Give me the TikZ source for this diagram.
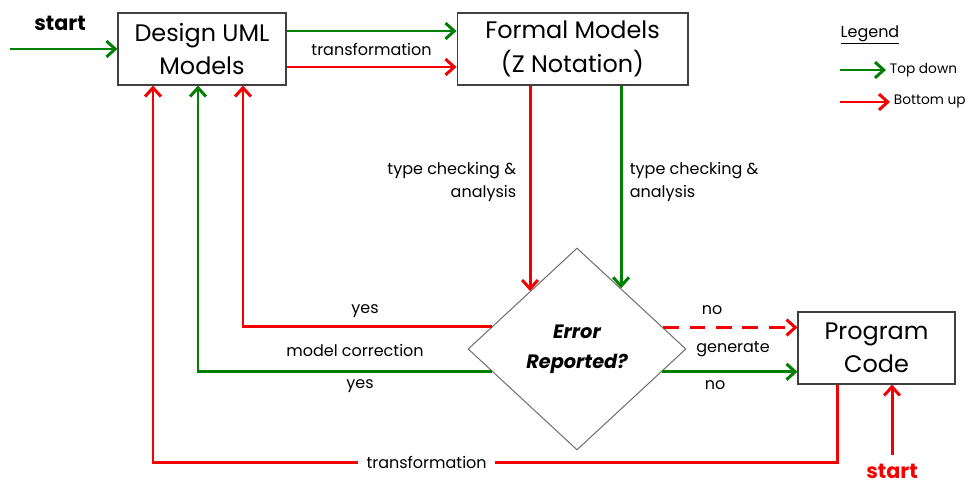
\documentclass[tikz,border=0pt]{standalone}
\usepackage{fontspec}
\setmainfont{Poppins}
\usetikzlibrary{arrows.meta,shapes.geometric,calc}

\definecolor{tdgreen}{RGB}{0,128,0}
\definecolor{bured}{RGB}{245,0,0}

\tikzset{
  box/.style={draw=black!75, line width=0.6pt, minimum height=1.44cm, align=center,
    inner sep=2pt, font=\fontsize{13.6}{19}\selectfont},
  flow/.style={line width=1.7pt, -{Straight Barb[length=5pt,width=9pt,line width=1.7pt]}},
  lbl/.style={font=\fontsize{9.1}{13.5}\selectfont, inner sep=2pt, text=black},
}

\begin{document}
\begin{tikzpicture}[x=0.02cm,y=-0.02cm]
    \useasboundingbox (0,0) rectangle (967,487);

    % boxes and decision
    \node[box, minimum width=3.36cm] (dum) at (202,49) {Design UML\\Models};
    \node[box, minimum width=4.62cm] (fm) at (572.5,49) {Formal Models\\(Z Notation)};
    \node[box, minimum width=3.14cm] (pc) at (876.5,348) {Program\\Code};
    \node[diamond, draw=black!55, line width=0.6pt, minimum width=4.36cm, minimum height=4.04cm,
          inner sep=0pt, align=center, font=\fontsize{11}{17}\selectfont\bfseries\itshape]
          (err) at (577,349) {Error\\Reported?};

    % start points
    \coordinate (s1) at (10,49);
    \coordinate (s2) at (892,455);
    \coordinate (loop) at (153,462);
    \node[font=\fontsize{11.8}{12}\selectfont\bfseries] at (60,23) {start};
    \node[font=\fontsize{11.8}{12}\selectfont\bfseries, text=bured] at (892,471) {start};
    \draw[flow,tdgreen] (s1) -- (dum.west);
    \draw[flow,bured] (s2) -- (pc.south -| s2);

    % UML -> Z
    \draw[flow,tdgreen] ($(dum.east)+(0,-18)$) -- ($(fm.west)+(0,-18)$);
    \draw[flow,bured] ($(dum.east)+(0,18)$) -- ($(fm.west)+(0,18)$);
    \node[lbl] at (371.5,49) {transformation};

    % Z -> check
    \draw[flow,bured] (fm.south -| err.129) -- (err.129);
    \draw[flow,tdgreen] (fm.south -| err.54) -- (err.54);
    \node[lbl, anchor=east, align=right] at (520,182) {type checking \&\\analysis};
    \node[lbl, anchor=west, align=left] at (626,182) {type checking \&\\analysis};

    % errors go back to the models
    \draw[flow,bured] (err.165) -| ($(dum.south)+(41,0)$);
    \draw[flow,tdgreen] (err.195) -| ($(dum.south)+(-4,0)$);
    \node[lbl] at (365,311) {yes};
    \node[lbl] at (355,350) {model correction};
    \node[lbl] at (360,386) {yes};

    % no errors -> code
    \draw[flow,bured,dashed,dash pattern=on 9pt off 6pt] (err.14) -- (pc.west |- err.14);
    \draw[flow,tdgreen] (err.-15) -- (pc.west |- err.-15);
    \node[lbl] at (712,310) {no};
    \node[lbl] at (733,349) {generate};
    \node[lbl] at (715,385) {no};

    % code back to UML
    \draw[flow,bured] ($(pc.south)+(-39.5,0)$) |- node[lbl, pos=0.8, fill=white, inner xsep=5pt] {transformation}
        (loop) -- ($(dum.south)+(-49,0)$);

    % legend
    \node[lbl] at (870,35) {\underline{Legend}};
    \node[lbl, anchor=west, font=\fontsize{7.8}{10}\selectfont] (td) at (886,70) {Top down};
    \node[lbl, anchor=west, font=\fontsize{7.8}{10}\selectfont] (bu) at (890,102) {Bottom up};
    \coordinate (tdA) at (840,70);
    \coordinate (buA) at (840,102);
    \draw[flow,tdgreen] (tdA) -- (td.west);
    \draw[flow,bured] (buA) -- (bu.west);
\end{tikzpicture}
\end{document}
